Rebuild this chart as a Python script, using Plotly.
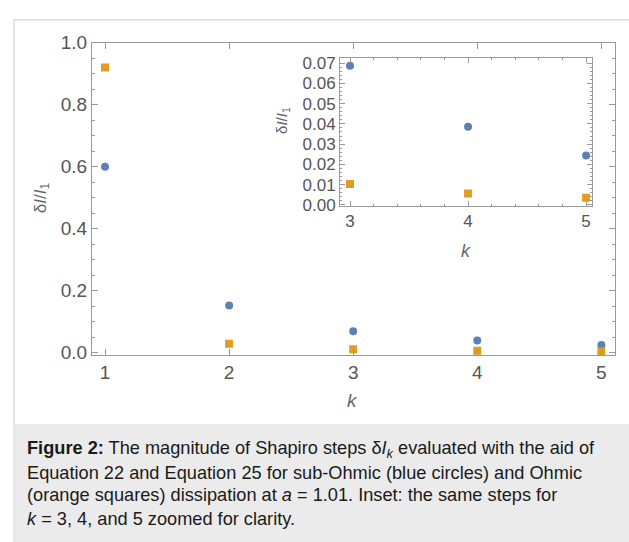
import plotly.graph_objects as go

k_main = [1, 2, 3, 4, 5]
sub_ohmic = [0.600, 0.152, 0.0687, 0.0386, 0.0244]
ohmic = [0.920, 0.028, 0.0103, 0.0056, 0.0035]

k_inset = [3, 4, 5]
sub_ohmic_inset = sub_ohmic[2:]
ohmic_inset = ohmic[2:]

main_yticks = [0.0, 0.2, 0.4, 0.6, 0.8, 1.0]
inset_yticks = [0.00, 0.01, 0.02, 0.03, 0.04, 0.05, 0.06, 0.07]

BLUE = "#5e81b5"
ORANGE = "#e19c24"
FRAME = "#9a9a9a"
TICKTXT = "#555555"
FONT = "Liberation Sans"

W, H = 629, 542

def px(x):
    return x / W

def py(y):
    return 1 - y / H

fig = go.Figure()

# main plot
fig.add_trace(go.Scatter(x=k_main, y=sub_ohmic, mode="markers", xaxis="x", yaxis="y",
                         marker=dict(color=BLUE, size=8, symbol="circle", line=dict(width=0)),
                         showlegend=False))
fig.add_trace(go.Scatter(x=k_main, y=ohmic, mode="markers", xaxis="x", yaxis="y",
                         marker=dict(color=ORANGE, size=8, symbol="square", line=dict(width=0)),
                         showlegend=False))
# inset
fig.add_trace(go.Scatter(x=k_inset, y=sub_ohmic_inset, mode="markers", xaxis="x2", yaxis="y2",
                         marker=dict(color=BLUE, size=8, symbol="circle", line=dict(width=0)),
                         showlegend=False))
fig.add_trace(go.Scatter(x=k_inset, y=ohmic_inset, mode="markers", xaxis="x2", yaxis="y2",
                         marker=dict(color=ORANGE, size=8, symbol="square", line=dict(width=0)),
                         showlegend=False))

axis_common = dict(showgrid=False, zeroline=False, showline=True, linecolor=FRAME, linewidth=1,
                   mirror="ticks", ticks="inside", tickcolor=FRAME, tickwidth=1,
                   tickfont=dict(family=FONT, color=TICKTXT))

fig.update_layout(
    width=W, height=H,
    margin=dict(l=0, r=0, t=0, b=0),
    paper_bgcolor="white", plot_bgcolor="white",
    xaxis=dict(axis_common, domain=[px(92), px(615)], range=[0.895, 5.11],
               tickvals=k_main, ticklen=6, tickfont=dict(family=FONT, color=TICKTXT, size=19),
               anchor="y"),
    yaxis=dict(axis_common, domain=[py(358), py(34)], range=[-0.0095, 1.0],
               tickvals=main_yticks, ticktext=[f"{v:.1f}" for v in main_yticks], ticklen=6,
               tickfont=dict(family=FONT, color=TICKTXT, size=19),
               minor=dict(ticks="inside", ticklen=3, dtick=0.05, tick0=0, tickcolor=FRAME),
               anchor="x"),
    xaxis2=dict(axis_common, domain=[px(340), px(592)], range=[2.915, 5.05],
                tickvals=k_inset, ticklen=5, tickfont=dict(family=FONT, color=TICKTXT, size=17),
                minor=dict(ticks="inside", ticklen=2, dtick=0.2, tick0=3, tickcolor=FRAME),
                anchor="y2"),
    yaxis2=dict(axis_common, domain=[py(203), py(50)], range=[-0.0005, 0.0724],
                tickvals=inset_yticks, ticktext=[f"{v:.2f}" for v in inset_yticks], ticklen=5,
                tickfont=dict(family=FONT, color=TICKTXT, size=17),
                minor=dict(ticks="inside", ticklen=2, dtick=0.002, tick0=0, tickcolor=FRAME),
                anchor="x2"),
)

shapes = [
    # outer frame
    dict(type="rect", xref="paper", yref="paper", x0=px(14), x1=px(640), y0=py(560), y1=py(10),
         line=dict(color="#dcdcdc", width=1.5), fillcolor="rgba(0,0,0,0)", layer="below"),
    # caption background
    dict(type="rect", xref="paper", yref="paper", x0=px(15), x1=px(640), y0=py(560), y1=py(429),
         line=dict(width=0), fillcolor="#ebebeb", layer="below"),
]
fig.update_layout(shapes=shapes)

ann = []
# axis titles
ann.append(dict(x=px(42), y=py(195), xref="paper", yref="paper", showarrow=False,
                xanchor="center", yanchor="middle",
                text="δ<i>I</i>/<i>I</i><sub>1</sub>", textangle=-90,
                font=dict(family=FONT, size=17, color="#666666")))
ann.append(dict(x=px(352), y=py(405), xref="paper", yref="paper", showarrow=False,
                xanchor="center", yanchor="middle",
                text="<i>k</i>", font=dict(family=FONT, size=19, color="#666666")))
ann.append(dict(x=px(283), y=py(115), xref="paper", yref="paper", showarrow=False,
                xanchor="center", yanchor="middle",
                text="δ<i>I</i>/<i>I</i><sub>1</sub>", textangle=-90,
                font=dict(family=FONT, size=15, color="#666666")))
ann.append(dict(x=px(466), y=py(250), xref="paper", yref="paper", showarrow=False,
                xanchor="center", yanchor="middle",
                text="<i>k</i>", font=dict(family=FONT, size=18, color="#666666")))

caption_lines = [
    "<b>Figure 2:</b> The magnitude of Shapiro steps δ<i>I</i><sub><i>k</i></sub> evaluated with the aid of",
    "Equation 22 and Equation 25 for sub-Ohmic (blue circles) and Ohmic",
    "(orange squares) dissipation at <i>a</i> = 1.01. Inset: the same steps for",
    "<i>k</i> = 3, 4, and 5 zoomed for clarity.",
]
caption_y = [455, 480, 503, 527]
for line, yy in zip(caption_lines, caption_y):
    ann.append(dict(x=px(25), y=py(yy), xref="paper", yref="paper", showarrow=False,
                    xanchor="left", yanchor="middle", align="left", text=line,
                    font=dict(family=FONT, size=18.2, color="#1a1a1a")))
fig.update_layout(annotations=ann)

fig.write_html("out.html", config={"displayModeBar": False},
               post_script="document.body.style.margin='0';")
